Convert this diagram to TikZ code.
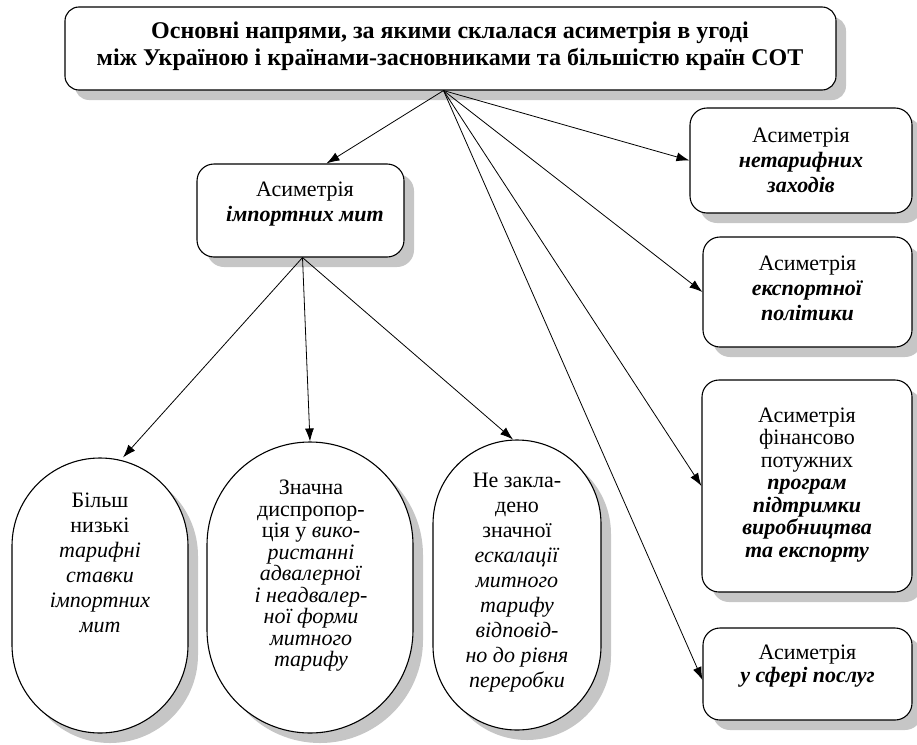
\documentclass[tikz,border=0pt]{standalone}
\usepackage{fontspec}
\setmainfont{Liberation Serif}
\usetikzlibrary{arrows.meta,shadows}

\newcommand{\emb}[1]{\textbf{\textit{#1}}}

\tikzset{
  shade/.style={general shadow={fill=gray!45, shadow xshift=10pt, shadow yshift=-10pt}},
  box/.style={draw=black, line width=1.1pt, fill=white, rounded corners=17pt, shade, inner sep=0pt},
  oval/.style={draw=black, line width=1.1pt, fill=white, inner sep=0pt, shade},
  txt/.style={align=center, font=\fontsize{22}{25}\selectfont, inner sep=0pt},
  link/.style={-{Latex[length=13pt,width=9pt]}, line width=0.8pt},
}

\begin{document}
\begin{tikzpicture}[x=1pt,y=-1pt]
\useasboundingbox (0,0) rectangle (917,744);

% title box
\node[box, rounded corners=14pt, minimum width=771pt, minimum height=83pt] (hdr) at (450.5,48.5) {};
\node[txt, font=\bfseries\fontsize{24}{27}\selectfont] (hdrtxt) at (450,46)
  {Основні напрями, за якими склалася асиметрія в угоді\\
   між Україною і країнами-засновниками та більшістю країн СОТ};
\coordinate (hub) at ([xshift=-7pt]hdr.south);

% import duties box
\node[box, minimum width=207pt, minimum height=93pt] (imp) at (300.5,210.5) {};
\node[txt] (imptxt) at (305,204) {Асиметрія\\ \emb{імпортних мит}};

% right column
\node[box, minimum width=222pt, minimum height=105pt] (ntm) at (801,160.5) {};
\node[txt] (ntmtxt) at (801,160) {Асиметрія\\ \emb{нетарифних}\\ \emb{заходів}};

\node[box, minimum width=209pt, minimum height=110pt] (exp) at (807.5,292) {};
\node[txt] (exptxt) at (807.5,288) {Асиметрія\\ \emb{експортної}\\ \emb{політики}};

\node[box, minimum width=210pt, minimum height=212pt] (fin) at (807,486) {};
\node[txt, font=\fontsize{22}{22.5}\selectfont] (fintxt) at (807,485)
  {Асиметрія\\ фінансово\\ потужних\\ \emb{програм}\\ \emb{підтримки}\\ \emb{виробництва}\\ \emb{та експорту}};

\node[box, minimum width=209pt, minimum height=92pt] (srv) at (807.5,674) {};
\node[txt, font=\fontsize{22}{23}\selectfont] (srvtxt) at (807.5,666) {Асиметрія\\ \emb{у сфері послуг}};

% ovals under the import box
\node[oval, rounded corners=88pt, minimum width=176pt, minimum height=275pt] (lo) at (100,595.5) {};
\node[txt] (lotxt) at (100,563)
  {Більш\\ низькі\\ \textit{тарифні}\\ \textit{ставки}\\ \textit{імпортних}\\ \textit{мит}};

\node[oval, rounded corners=103pt, minimum width=206pt, minimum height=291pt] (mo) at (310,587.5) {};
\node[txt, font=\fontsize{22}{21.5}\selectfont] (motxt) at (311,576)
  {Значна\\ диспропор-\\ ція у \textit{вико-}\\ \textit{ристанні}\\ \textit{адвалерної}\\
   \textit{і неадвалер-}\\ \textit{ної форми}\\ \textit{митного}\\ \textit{тарифу}};

\node[oval, rounded corners=84pt, minimum width=168pt, minimum height=290pt] (ro) at (517,585) {};
\node[txt] (rotxt) at (517,583)
  {Не закла-\\ дено\\ значної\\ \textit{ескалації}\\ \textit{митного}\\ \textit{тарифу}\\
   \textit{відповід-}\\ \textit{но до рівня}\\ \textit{переробки}};

% connectors
\draw[link] (hub) -- ([xshift=26pt]imp.north);
\draw[link] (hub) -- (ntm.west);
\draw[link] (hub) -- (exp.west);
\draw[link] (hub) -- (fin.west);
\draw[link] (hub) -- ([yshift=-6pt]srv.west);

\draw[link] ([xshift=2pt]imp.south) -- ([xshift=23pt]lo.north);
\draw[link] ([xshift=2pt]imp.south) -- (mo.north);
\draw[link] ([xshift=2pt]imp.south) -- ([xshift=-4pt]ro.north);
\end{tikzpicture}
\end{document}
